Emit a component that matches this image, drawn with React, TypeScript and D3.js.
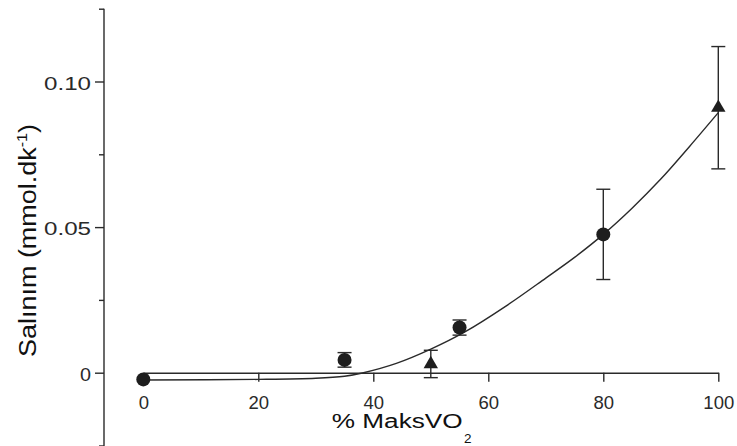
import React, { useRef, useEffect } from 'react'
import * as d3 from 'd3'

// measured points (circles)
const circleX = [0, 35, 55, 80]
const circleY = [-0.0023, 0.0044, 0.0155, 0.0475]
const circleErr = [0, 0.0025, 0.0026, 0.0155]

// measured points (triangles)
const triX = [50, 100]
const triY = [0.003, 0.091]
const triErr = [0.0047, 0.021]

// fitted curve
const fitX = [0, 20, 30, 35, 38.3, 44, 50, 56, 63, 70, 75, 80, 85, 90, 95, 100]
const fitY = [-0.0025, -0.0023, -0.0019, -0.0012, 0, 0.0032, 0.0081, 0.0141, 0.0228, 0.0325, 0.0396, 0.0475, 0.0565, 0.0665, 0.0777, 0.0893]

const xTicks = [0, 20, 40, 60, 80, 100]
const yMajor = [0, 0.05, 0.1]
const yMinor = [-0.025, 0.025, 0.075, 0.125]
const yLabels = ['0', '0.05', '0.10']

const ink = '#2a2a2a'
const font = 'Liberation Sans, Arial, Helvetica, sans-serif'

export default function App() {
  const canvas = useRef<SVGSVGElement>(null)

  useEffect(() => {
    const svg = d3.select(canvas.current)
    svg.selectAll('*').remove()

    const x = d3.scaleLinear().domain([0, 100]).range([143.3, 718.3])
    const y = d3.scaleLinear().domain([-0.025, 0.125]).range([445.5, 8.7])
    const axisX = 104

    // y axis
    const yAx = svg.append('g').attr('transform', `translate(${axisX},0)`)
    yAx.call(
      d3.axisLeft(y).tickValues(yMajor).tickSize(9).tickPadding(4)
        .tickFormat((d, i) => yLabels[i])
    )
    const yMin = svg.append('g').attr('transform', `translate(${axisX},0)`)
    yMin.call(d3.axisLeft(y).tickValues(yMinor).tickSize(5).tickSizeOuter(0).tickFormat(() => ''))
    yMin.select('.domain').remove()

    // x axis sits on y = 0
    const xAx = svg.append('g').attr('transform', `translate(0,${y(0)})`)
    xAx.call(d3.axisBottom(x).tickValues(xTicks).tickSize(9).tickSizeOuter(0).tickPadding(14).tickFormat(d3.format('d')))

    for (const ax of [yAx, yMin, xAx]) {
      ax.selectAll('path,line').attr('stroke', ink).attr('stroke-width', 1.4)
      ax.selectAll('text').attr('fill', ink).attr('font-family', font)
    }
    yAx.selectAll('path.domain').attr('d', `M0,${y(0.125)}V${y(-0.025) + 2}`)
    xAx.selectAll('text').attr('font-size', 18.5)
    yAx.selectAll('text').attr('font-size', 17.5).attr('dy', '0.45em')
      .attr('textLength', (d: any) => (d === 0 ? 11 : 47))
      .attr('lengthAdjust', 'spacingAndGlyphs')

    // fitted curve
    const line = d3.line<number>()
      .x((d, i) => x(fitX[i]))
      .y((d) => y(d))
      .curve(d3.curveCatmullRom.alpha(0.5))
    svg.append('path').datum(fitY).attr('d', line)
      .attr('fill', 'none').attr('stroke', ink).attr('stroke-width', 1.4)

    // error bars
    const errs = [
      ...circleX.map((v, i) => ({ x: v, y: circleY[i], e: circleErr[i] })),
      ...triX.map((v, i) => ({ x: v, y: triY[i], e: triErr[i] }))
    ].filter((d) => d.e > 0)
    const eg = svg.append('g').attr('stroke', ink).attr('stroke-width', 1.4)
    errs.forEach((d) => {
      const cx = x(d.x)
      eg.append('line').attr('x1', cx).attr('x2', cx).attr('y1', y(d.y - d.e)).attr('y2', y(d.y + d.e))
      eg.append('line').attr('x1', cx - 7).attr('x2', cx + 7).attr('y1', y(d.y + d.e)).attr('y2', y(d.y + d.e))
      eg.append('line').attr('x1', cx - 7).attr('x2', cx + 7).attr('y1', y(d.y - d.e)).attr('y2', y(d.y - d.e))
    })

    // markers
    svg.append('g').selectAll('circle').data(circleX).enter()
      .append('circle')
      .attr('cx', (d) => x(d))
      .attr('cy', (d, i) => y(circleY[i]))
      .attr('r', 7)
      .attr('fill', '#1e1e1e')

    svg.append('g').selectAll('path').data(triX).enter()
      .append('path')
      .attr('d', d3.symbol(d3.symbolTriangle, 90))
      .attr('transform', (d, i) => `translate(${x(d)},${y(triY[i])})`)
      .attr('fill', '#1e1e1e')

    // axis titles
    const xt = svg.append('text')
      .attr('x', 331.7).attr('y', 427.5)
      .attr('font-family', font).attr('font-size', 19.5).attr('fill', '#111')
    xt.append('tspan').text('% MaksVO').attr('textLength', 131).attr('lengthAdjust', 'spacingAndGlyphs')
    svg.append('text').attr('x', 464).attr('y', 442.5)
      .attr('font-family', font).attr('font-size', 13.5).attr('fill', '#111').text('2')

    const yt = svg.append('text')
      .attr('transform', 'translate(36,240.5) rotate(-90)')
      .attr('text-anchor', 'middle')
      .attr('font-family', font).attr('font-size', 23.5).attr('fill', '#111')
      .attr('textLength', 233).attr('lengthAdjust', 'spacingAndGlyphs')
    yt.append('tspan').text('Salınım (mmol.dk')
    yt.append('tspan').attr('dy', -9).attr('font-size', 14).text('-1')
    yt.append('tspan').attr('dy', 9).text(')')
  }, [])

  return (
    <div style={{ position: 'absolute', left: 0, top: 0 }}>
      <svg width="737" height="446" ref={canvas} style={{ display: 'block', background: '#fff' }} />
    </div>
  )
}
